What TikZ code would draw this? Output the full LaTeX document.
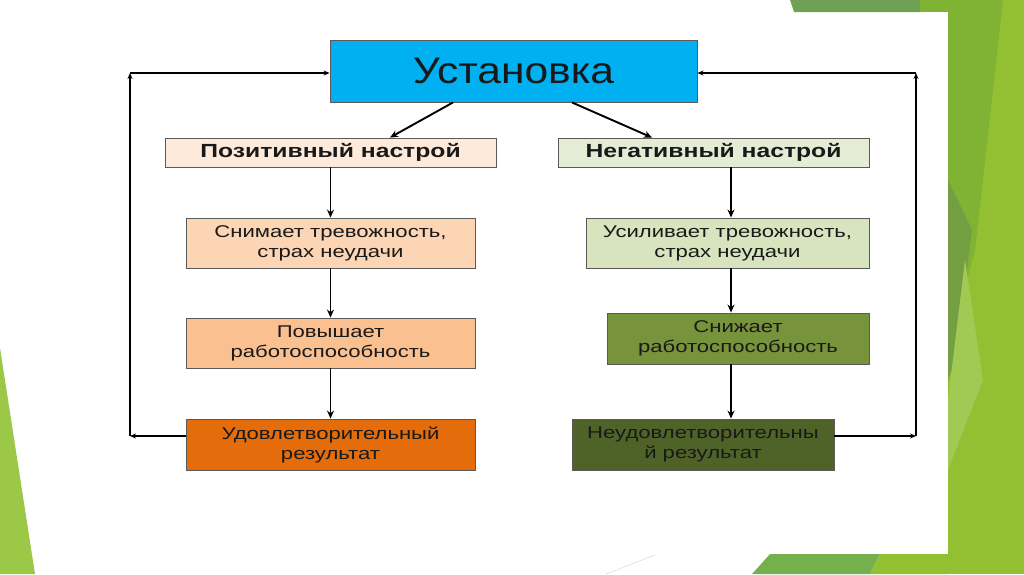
\documentclass[tikz,border=0pt]{standalone}
\usepackage{fontspec}
\setmainfont{Liberation Sans}[FakeStretch=1.3]
\newfontfamily\titlefont{Liberation Sans}[FakeStretch=1.15]
\usetikzlibrary{arrows.meta}
\definecolor{cUst}{RGB}{0,176,240}
\definecolor{cPosH}{RGB}{253,234,218}
\definecolor{cNegH}{RGB}{228,236,214}
\definecolor{cP1}{RGB}{252,213,180}
\definecolor{cN1}{RGB}{215,228,189}
\definecolor{cP2}{RGB}{250,192,144}
\definecolor{cN2}{RGB}{119,147,60}
\definecolor{cP3}{RGB}{228,108,10}
\definecolor{cN3}{RGB}{79,98,40}
\definecolor{gBase}{RGB}{146,192,50}
\definecolor{gStrip}{RGB}{111,160,85}
\definecolor{gMid}{RGB}{128,178,52}
\definecolor{gDark}{RGB}{116,158,66}
\definecolor{gLight}{RGB}{160,202,84}
\definecolor{gLeft}{RGB}{155,200,70}
\definecolor{gBot}{RGB}{116,176,76}
\definecolor{boxline}{RGB}{90,90,90}
\tikzset{
  box/.style={draw=boxline, line width=0.9pt, inner sep=0pt, align=center, font=\fontsize{17}{20}\selectfont, text=black!90},
  hbox/.style={box, font=\fontsize{19}{22}\selectfont\bfseries},
  flow/.style={line width=1.9pt, -{Stealth[length=8pt,width=7pt]}},
  fb/.style={line width=2.1pt, -{Stealth[length=6pt,width=5pt]}}
}
\begin{document}
\begin{tikzpicture}[x=1pt,y=-1pt]
\useasboundingbox (0,0) rectangle (1024,574);
% background decoration
\fill[white] (0,0) rectangle (1024,574);
\fill[gBase] (948,0) rectangle (1024,574);
\fill[gMid] (948,0) -- (1003,0) -- (975,250) -- (948,350) -- cycle;
\fill[gDark] (948,180) -- (972,230) -- (955,360) -- (948,380) -- cycle;
\fill[gLight] (965,260) -- (983,380) -- (948,470) -- (948,400) -- cycle;
\fill[gStrip] (790,0) -- (920,0) -- (920,12) -- (794,12) -- cycle;
\fill[gMid] (920,0) rectangle (948,12);
\fill[gBot] (770,554) -- (880,554) -- (870,574) -- (752,574) -- cycle;
\fill[gBase] (880,554) -- (948,554) -- (948,574) -- (870,574) -- cycle;
\fill[gLeft] (0,348) -- (35,574) -- (0,574) -- cycle;
\draw[gray!25, line width=0.6pt] (655,555) -- (606,574);

% nodes
\node[box, fill=cUst, minimum width=367pt, minimum height=62pt, font=\titlefont\fontsize{37}{40}\selectfont] (ust) at (513.5,71) {Установка};
\node[hbox, fill=cPosH, minimum width=331pt, minimum height=29pt] (pos) at (330.5,152.5) {Позитивный настрой};
\node[hbox, fill=cNegH, minimum width=311pt, minimum height=29pt] (neg) at (713.5,152.5) {Негативный настрой};
\node[box, fill=cP1, minimum width=289pt, minimum height=50pt] (p1) at (330.5,243) {Снимает тревожность,\\страх неудачи};
\node[box, fill=cN1, minimum width=283pt, minimum height=50pt] (n1) at (727.5,243) {Усиливает тревожность,\\страх неудачи};
\node[box, fill=cP2, minimum width=289pt, minimum height=50pt] (p2) at (330.5,343) {Повышает\\работоспособность};
\node[box, fill=cN2, minimum width=262pt, minimum height=51pt] (n2) at (738,338.5) {Снижает\\работоспособность};
\node[box, fill=cP3, minimum width=289pt, minimum height=51pt] (p3) at (330.5,444.5) {Удовлетворительный\\результат};
\node[box, fill=cN3, minimum width=262pt, minimum height=51pt] (n3) at (703,444.5) {Неудовлетворительны\\й результат};

% helper coordinates
\coordinate (rx) at (731,0);
\coordinate (lb) at (130,436);
\coordinate (lt) at (130,73);
\coordinate (rb) at (916,436);
\coordinate (rt) at (916,73);

% connectors
\draw[flow] ([xshift=-60.5pt]ust.south) -- ([xshift=59.5pt]pos.north);
\draw[flow] ([xshift=58.5pt]ust.south) -- ([xshift=-61.5pt]neg.north);
\draw[flow] (pos) -- (p1);
\draw[flow] (p1) -- (p2);
\draw[flow] (p2) -- (p3);
\draw[flow] (neg.south -| rx) -- (n1.north -| rx);
\draw[flow] (n1.south -| rx) -- (n2.north -| rx);
\draw[flow] (n2.south -| rx) -- (n3.north -| rx);
\draw[fb] ([yshift=8.5pt]p3.west) -- (lb);
\draw[fb] (lb) -- (lt);
\draw[fb] (lt) -- ([yshift=-2pt]ust.west);
\draw[fb] ([yshift=8.5pt]n3.east) -- (rb);
\draw[fb] (rb) -- (rt);
\draw[fb] (rt) -- ([yshift=-2pt]ust.east);
\end{tikzpicture}
\end{document}
